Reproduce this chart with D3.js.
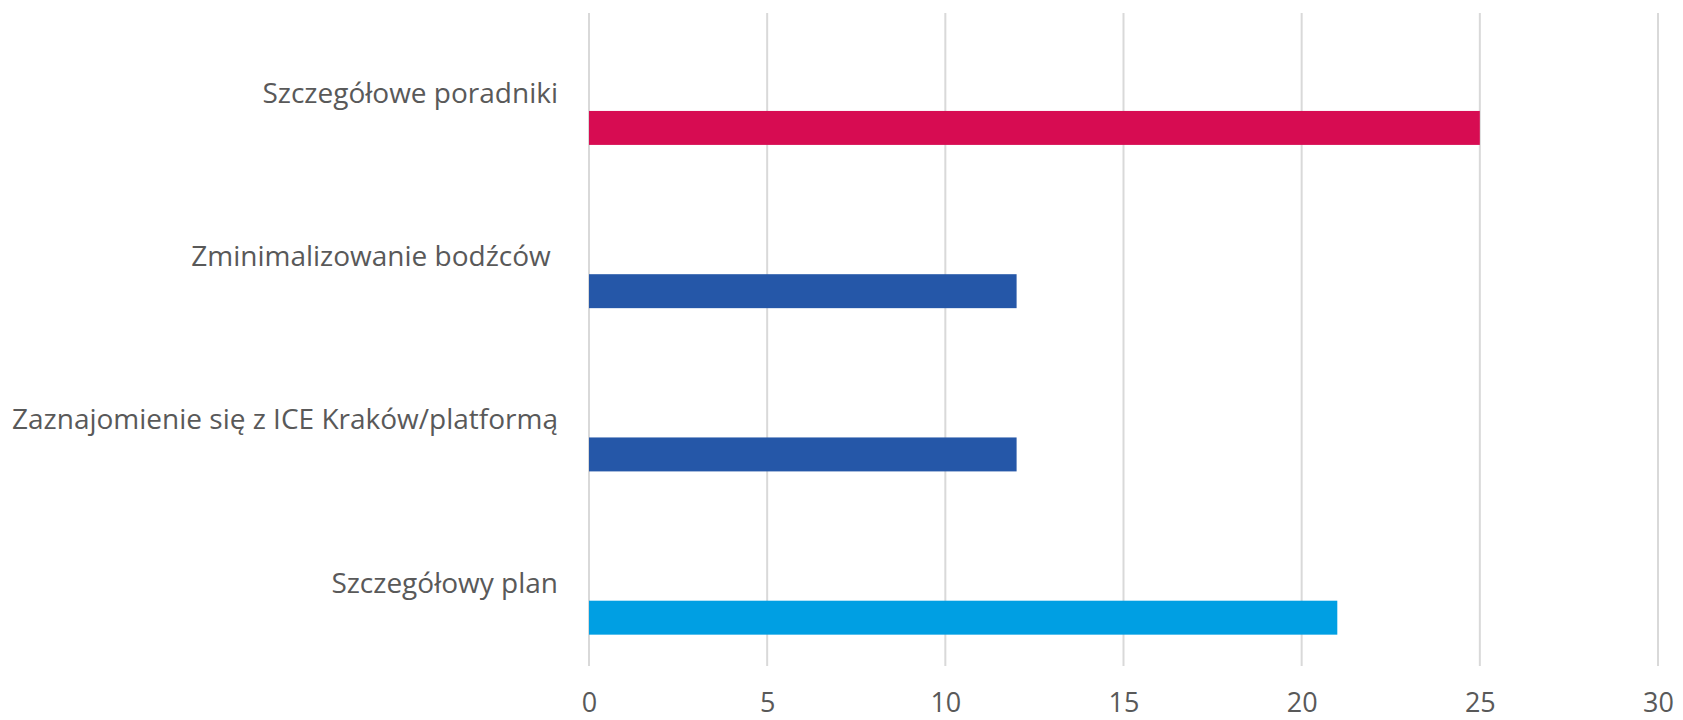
<!DOCTYPE html>
<html>
<head>
    <meta charset="utf-8">
    <script src="https://d3js.org/d3.v7.min.js"></script>
    <title>Bar chart</title>
    <style>
        body { margin: 0; background: #fff; }
        svg text { font-family: "Open Sans", "Noto Sans", sans-serif; fill: #595959; }
    </style>
</head>
<body>
    <div id="chart"></div>
    <script>
        // chart data
        var categories = ["Szczegółowe poradniki", "Zminimalizowanie bodźców ", "Zaznajomienie się z ICE Kraków/platformą", "Szczegółowy plan"];
        var values = [25, 12, 12, 21];
        var barColors = ["#D70C52", "#2557A8", "#2557A8", "#009FE3"];
        var xTicks = [0, 5, 10, 15, 20, 25, 30];

        var width = 1683, height = 720;
        var plotLeft = 589, plotRight = 1658, plotTop = 13, plotBottom = 666;

        var svg = d3.select('#chart').append('svg')
            .attr('width', width)
            .attr('height', height);

        var x = d3.scaleLinear().domain([0, 30]).range([plotLeft, plotRight]);
        var y = d3.scaleBand().domain(categories).range([plotTop, plotBottom]).padding(0);
        var bw = y.bandwidth();

        // vertical gridlines
        svg.append('g').selectAll('line')
            .data(xTicks)
            .enter().append('line')
            .attr('x1', function(d) { return x(d); })
            .attr('x2', function(d) { return x(d); })
            .attr('y1', plotTop)
            .attr('y2', plotBottom)
            .attr('stroke', '#D9D9D9')
            .attr('stroke-width', 2);

        // bars sit in the lower part of each band
        svg.append('g').selectAll('rect')
            .data(categories)
            .enter().append('rect')
            .attr('x', x(0))
            .attr('y', function(d) { return y(d) + bw * 0.6; })
            .attr('width', function(d, i) { return x(values[i]) - x(0); })
            .attr('height', bw * 0.208)
            .attr('fill', function(d, i) { return barColors[i]; });

        // category labels above the bars, right aligned
        svg.append('g').selectAll('text')
            .data(categories)
            .enter().append('text')
            .attr('x', plotLeft - 31)
            .attr('y', function(d) { return y(d) + bw * 0.551; })
            .attr('text-anchor', 'end')
            .style('font-size', '28px')
            .style('white-space', 'pre')
            .text(function(d) { return d; });

        // x axis tick labels
        var xAxis = d3.axisBottom(x).tickValues(xTicks).tickSize(0).tickPadding(0);
        var gx = svg.append('g')
            .attr('transform', 'translate(0,' + 712 + ')')
            .call(xAxis);
        gx.select('.domain').remove();
        gx.selectAll('text')
            .attr('dy', '0')
            .style('font-size', '27px')
            .style('font-family', '"Open Sans", "Noto Sans", sans-serif')
            .attr('fill', '#595959');
    </script>
</body>
</html>
